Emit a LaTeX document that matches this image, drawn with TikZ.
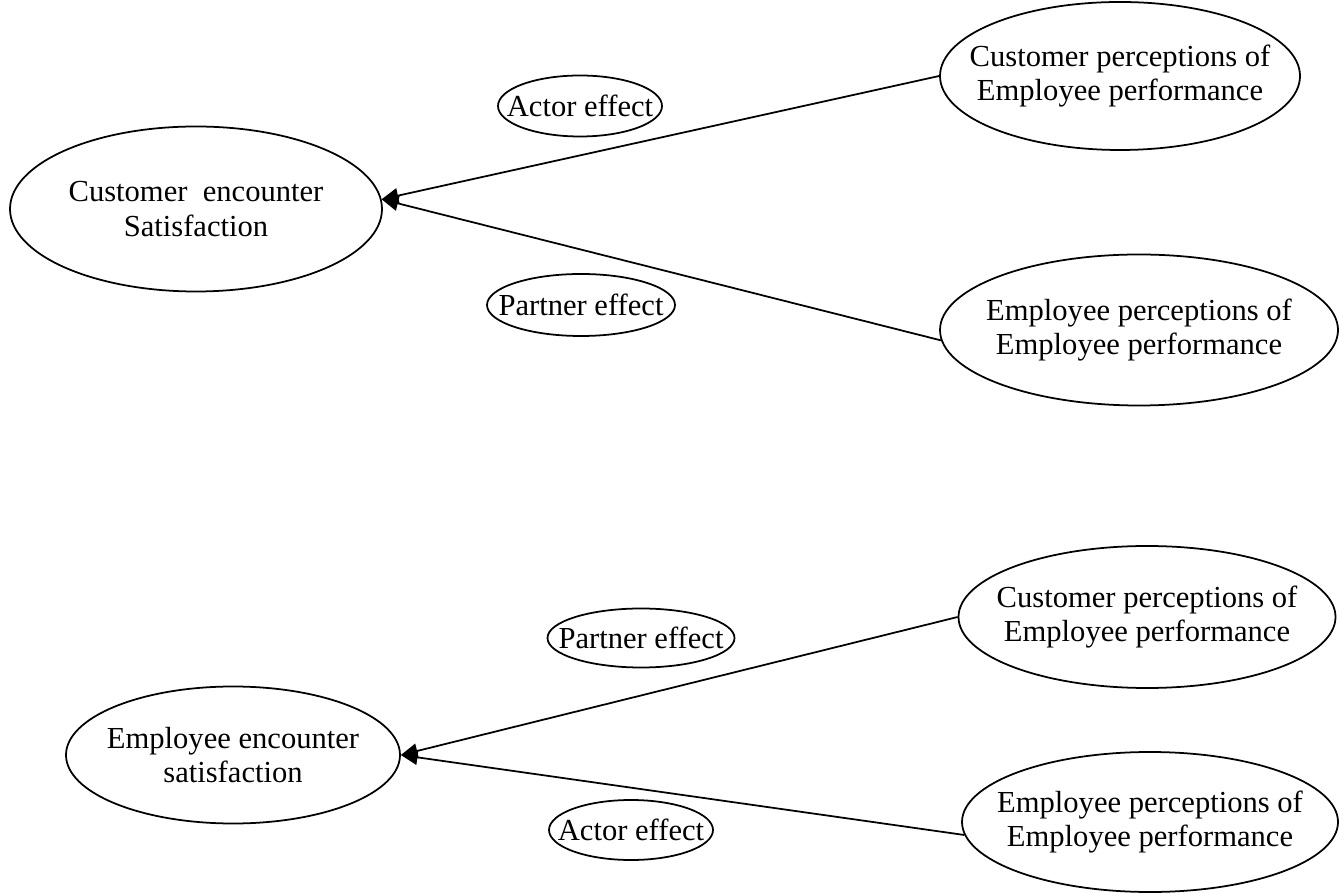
\documentclass[tikz,border=0pt]{standalone}
\usepackage{fontspec}
\setmainfont{Liberation Serif}
\usetikzlibrary{arrows.meta,shapes.geometric}

\begin{document}
\begin{tikzpicture}[
  >={Triangle[length=9.5pt, width=8.5pt]},
  oval/.style={draw, ellipse, line width=1pt, inner xsep=-0.8cm, inner ysep=0pt,
               align=center, font=\fontsize{17.4}{19.5}\selectfont},
  effect/.style={oval},
  arr/.style={->, line width=1pt},
]
\useasboundingbox (0,0) rectangle (26.8,17.84);

%% ═══ CUSTOMER ═══════════════════════════════════════════════════════
\node[oval, minimum width=7.44cm, minimum height=3.3cm] (csat) at (3.92, 13.66)
    {Customer\ \ encounter\\Satisfaction};
\node[oval, minimum width=7.2cm, minimum height=2.96cm] (ccust) at (22.4, 16.32)
    {Customer perceptions of\\Employee performance};
\node[oval, minimum width=7.96cm, minimum height=3.02cm] (cempl) at (22.78, 11.24)
    {Employee perceptions of\\Employee performance};

% effect labels
\node[effect, minimum width=3.28cm, minimum height=1.22cm] (cactor)   at (11.6, 15.72) {Actor effect};
\node[effect, minimum width=3.76cm, minimum height=1.24cm] (cpartner) at (11.62, 11.74) {Partner effect};

\draw[arr] (ccust.west) -- (csat.3);
\draw[arr] (cempl.183) -- (csat.3);

%% ═══ EMPLOYEE ═══════════════════════════════════════════════════════
\node[oval, minimum width=6.68cm, minimum height=2.74cm] (esat) at (4.66, 2.74)
    {Employee encounter\\satisfaction};
\node[oval, minimum width=7.54cm, minimum height=2.84cm] (ecust) at (22.94, 5.5)
    {Customer perceptions of\\Employee performance};
\node[oval, minimum width=7.52cm, minimum height=2.8cm] (eempl) at (23.0, 1.4)
    {Employee perceptions of\\Employee performance};

% effect labels
\node[effect, minimum width=3.74cm, minimum height=1.18cm] (epartner) at (12.82, 5.08) {Partner effect};
\node[effect, minimum width=3.28cm, minimum height=1.2cm]  (eactor)   at (12.62, 1.24) {Actor effect};

\draw[arr] (ecust.west) -- (esat.east);
\draw[arr] (eempl.184) -- (esat.east);

\end{tikzpicture}
\end{document}
